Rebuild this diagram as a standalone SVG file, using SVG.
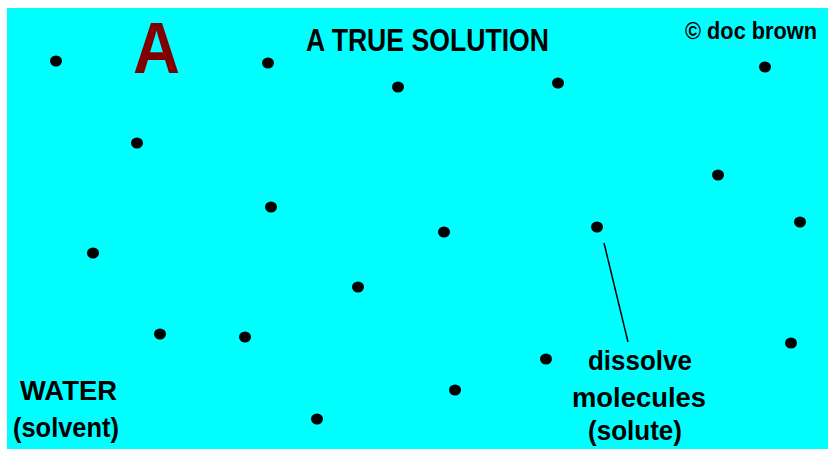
<svg xmlns="http://www.w3.org/2000/svg" width="828" height="451" viewBox="0 0 828 451">
<style>
.mol{fill:#000}
.lbl{font-family:"Liberation Sans",Arial,sans-serif;font-weight:bold;fill:#000}
</style>
<rect x="0" y="0" width="828" height="451" fill="#fff"/>
<rect x="7" y="8" width="821" height="441" fill="#00ffff"/>
<text x="133" y="73" font-family="Liberation Sans, Arial, sans-serif" font-weight="bold" font-size="72" fill="#800000" textLength="47" lengthAdjust="spacingAndGlyphs">A</text>
<text x="306" y="51" font-family="Liberation Sans, Arial, sans-serif" font-weight="bold" font-size="31" fill="#000" textLength="243" lengthAdjust="spacingAndGlyphs">A TRUE SOLUTION</text>
<text class="lbl" x="685" y="39" font-size="23" textLength="132" lengthAdjust="spacingAndGlyphs">© doc brown</text>
<g id="molecules">
<ellipse class="mol" cx="56" cy="61" rx="6" ry="5.5"/>
<ellipse class="mol" cx="268" cy="63" rx="6" ry="5.5"/>
<ellipse class="mol" cx="398" cy="87" rx="6" ry="5.5"/>
<ellipse class="mol" cx="558" cy="83" rx="6" ry="5.5"/>
<ellipse class="mol" cx="765" cy="67" rx="6" ry="5.5"/>
<ellipse class="mol" cx="137" cy="143" rx="6" ry="5.5"/>
<ellipse class="mol" cx="718" cy="175" rx="6" ry="5.5"/>
<ellipse class="mol" cx="271" cy="207" rx="6" ry="5.5"/>
<ellipse class="mol" cx="444" cy="232" rx="6" ry="5.5"/>
<ellipse class="mol" cx="597" cy="227" rx="6" ry="5.5"/>
<ellipse class="mol" cx="800" cy="222" rx="6" ry="5.5"/>
<ellipse class="mol" cx="93" cy="253" rx="6" ry="5.5"/>
<ellipse class="mol" cx="358" cy="287" rx="6" ry="5.5"/>
<ellipse class="mol" cx="160" cy="334" rx="6" ry="5.5"/>
<ellipse class="mol" cx="245" cy="337" rx="6" ry="5.5"/>
<ellipse class="mol" cx="546" cy="359" rx="6" ry="5.5"/>
<ellipse class="mol" cx="791" cy="343" rx="6" ry="5.5"/>
<ellipse class="mol" cx="455" cy="390" rx="6" ry="5.5"/>
<ellipse class="mol" cx="317" cy="419" rx="6" ry="5.5"/>
</g>
<g id="connectors">
<line x1="604" y1="243" x2="628" y2="342" stroke="#000" stroke-width="1.5"/>
</g>
<g id="label-water">
<text class="lbl" x="20" y="400" font-size="28" textLength="97" lengthAdjust="spacingAndGlyphs">WATER</text>
<text class="lbl" x="13" y="437" font-size="28" textLength="106" lengthAdjust="spacingAndGlyphs">(solvent)</text>
</g>
<g id="label-solute">
<text class="lbl" x="588" y="370" font-size="28" textLength="104" lengthAdjust="spacingAndGlyphs">dissolve</text>
<text class="lbl" x="572" y="407" font-size="28" textLength="134" lengthAdjust="spacingAndGlyphs">molecules</text>
<text class="lbl" x="588" y="440" font-size="28" textLength="94" lengthAdjust="spacingAndGlyphs">(solute)</text>
</g>
</svg>
